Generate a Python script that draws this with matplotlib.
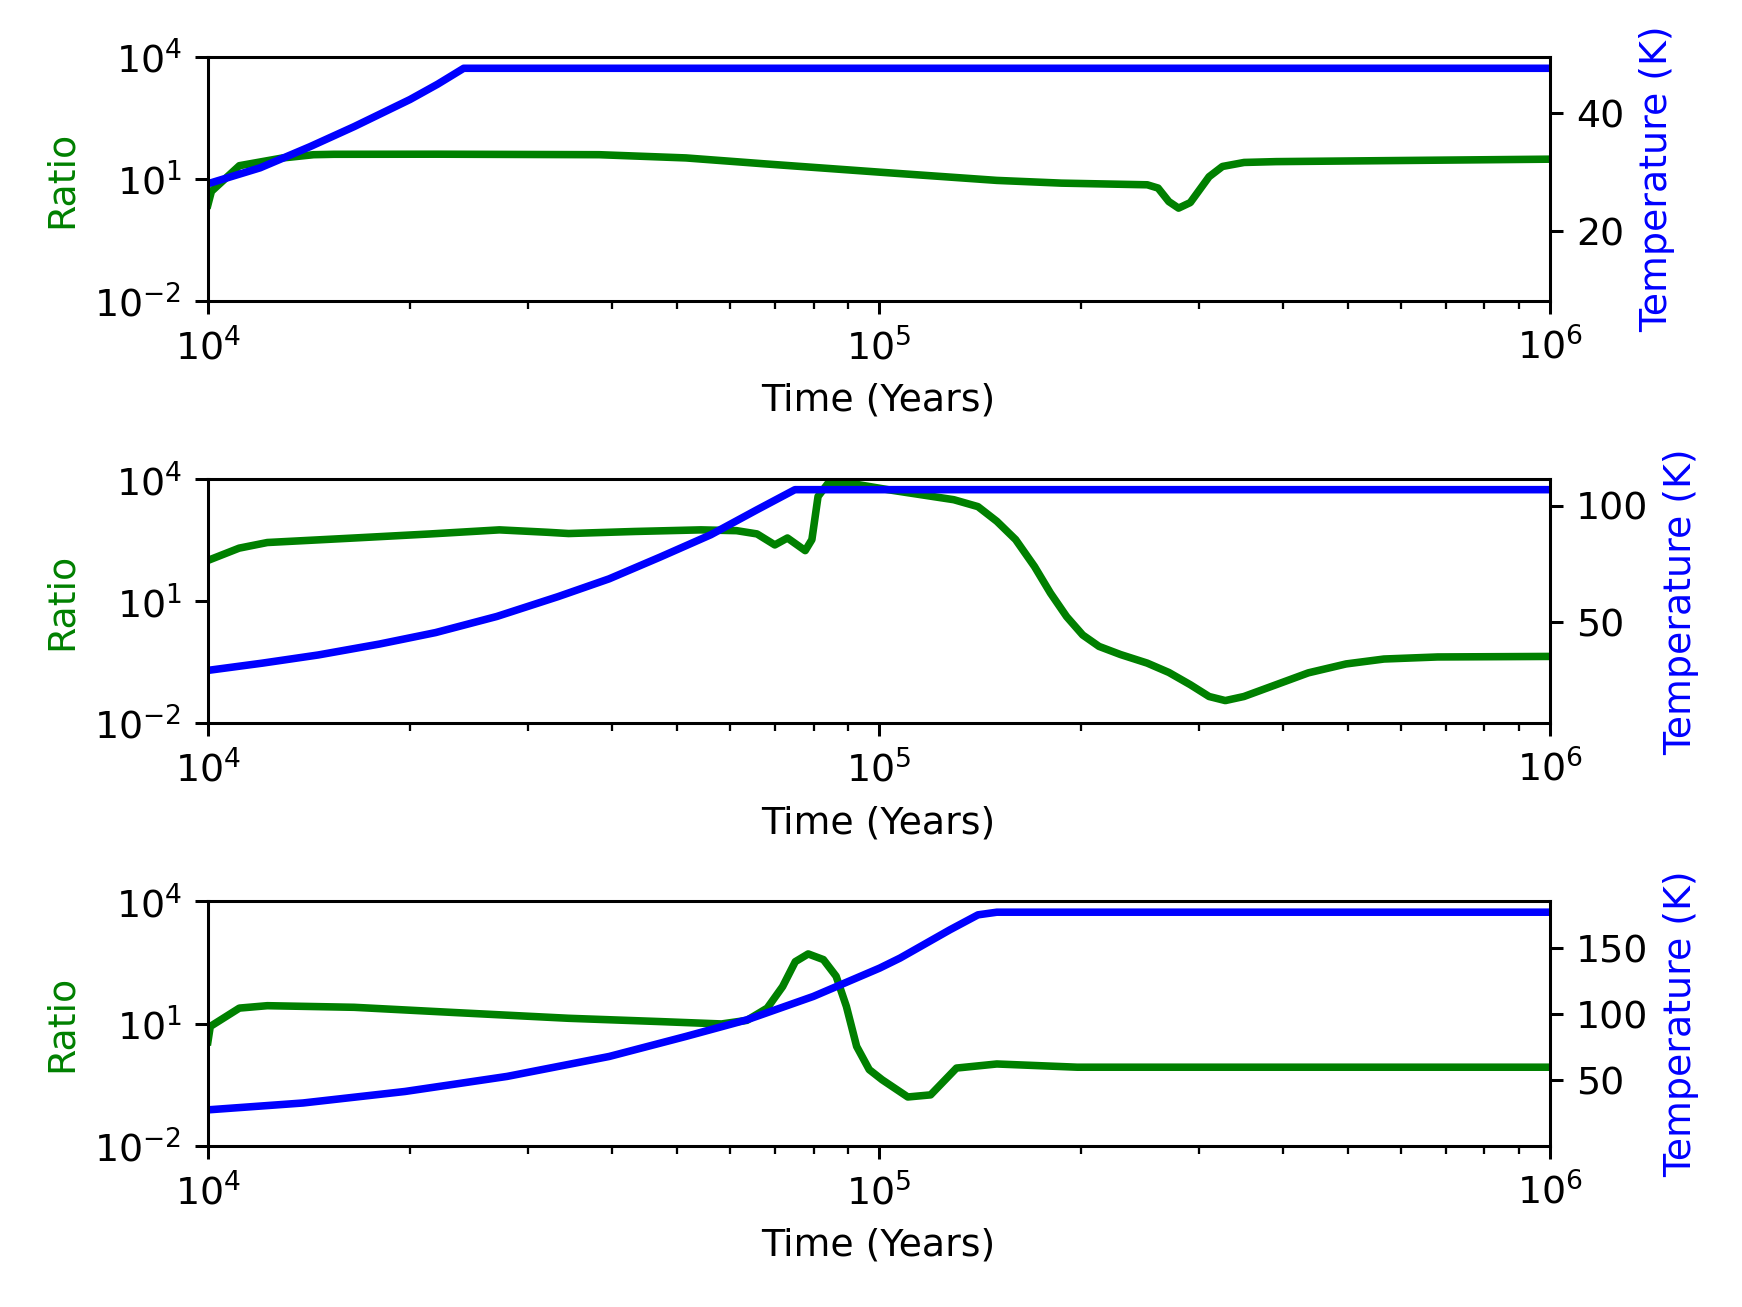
import numpy as np
import matplotlib
matplotlib.use("Agg")
import matplotlib.pyplot as plt
from matplotlib.ticker import NullLocator

# Panel 1
ratio_t1 = [1.0e4, 1.012e4, 1.114e4, 1.293e4, 1.437e4, 1.541e4, 2.2e4, 3.83e4, 5.16e4, 6.71e4,
            1.003e5, 1.50e5, 1.872e5, 2.514e5, 2.609e5, 2.707e5, 2.799e5, 2.914e5,
            3.108e5, 3.254e5, 3.505e5, 3.912e5, 1.0e6]
ratio_1 = [2.3, 4.9, 20.9, 32.4, 38.9, 39.8, 40.0, 38.9, 32.4, 23.4,
           14.5, 9.1, 7.8, 7.1, 5.9, 2.75, 1.9, 2.6,
           11.2, 20.0, 25.1, 26.3, 30.2]
temp_t1 = [1.0e4, 1.196e4, 1.42e4, 1.652e4, 2.001e4, 2.2e4, 2.406e4, 1.0e6]
temp_1 = [28.0, 30.7, 34.3, 37.7, 42.3, 44.9, 47.6, 47.6]

# Panel 2
ratio_t2 = [1.0e4, 1.113e4, 1.226e4, 1.652e4, 2.147e4, 2.72e4, 3.211e4, 3.449e4, 4.325e4,
            5.43e4, 6.14e4, 6.585e4, 7.0e4, 7.31e4, 7.77e4, 7.95e4, 8.12e4, 8.41e4,
            8.94e4, 1.038e5, 1.294e5, 1.406e5, 1.50e5, 1.60e5, 1.707e5, 1.803e5,
            1.906e5, 2.014e5, 2.13e5, 2.293e5, 2.513e5, 2.707e5, 2.914e5, 3.108e5,
            3.286e5, 3.503e5, 3.912e5, 4.37e5, 4.975e5, 5.665e5, 6.81e5, 1.0e6]
ratio_2 = [100, 200, 275, 355, 447, 562, 490, 457, 513,
           562, 537, 447, 240, 355, 174, 324, 3715, 7943,
           8128, 5370, 3090, 2089, 912, 324, 70.8, 15.8,
           4.17, 1.48, 0.776, 0.49, 0.302, 0.178, 0.089, 0.0457,
           0.0363, 0.0457, 0.089, 0.174, 0.288, 0.38, 0.427, 0.44]
temp_t2 = [1.0e4, 1.205e4, 1.46e4, 1.803e4, 2.185e4, 2.696e4, 3.327e4, 3.963e4,
           4.72e4, 5.62e4, 6.585e4, 7.5e4, 1.0e6]
temp_2 = [29.4, 32.5, 36.0, 40.7, 45.6, 52.5, 61.0, 68.6,
          77.9, 87.5, 98.2, 106.8, 106.8]

# Panel 3
ratio_t3 = [1.0e4, 1.008e4, 1.114e4, 1.226e4, 1.652e4, 2.343e4, 3.446e4, 4.723e4, 5.83e4,
            6.36e4, 6.82e4, 7.19e4, 7.51e4, 7.85e4, 8.27e4, 8.64e4, 8.95e4, 9.27e4,
            9.68e4, 1.012e5, 1.105e5, 1.195e5, 1.306e5, 1.50e5, 1.977e5, 1.0e6]
ratio_3 = [3.6, 8.5, 24, 27.5, 25.1, 18.6, 13.5, 11.2, 9.8,
           12, 24, 81, 331, 513, 372, 145, 26.3, 2.75,
           0.74, 0.417, 0.158, 0.178, 0.81, 1.02, 0.85, 0.85]
temp_t3 = [1.0e4, 1.386e4, 1.967e4, 2.793e4, 3.966e4, 5.156e4, 6.36e4, 7.99e4,
           1.003e5, 1.076e5, 1.277e5, 1.406e5, 1.50e5, 1.0e6]
temp_3 = [27.6, 32.8, 41.5, 52.9, 68.0, 83.1, 95.7, 113.4,
          134.8, 142.4, 163.8, 175.1, 177.1, 177.1]

ratio_ticks = [1e-2, 1e1, 1e4]

panels = [
    (ratio_t1, ratio_1, temp_t1, temp_1, (8.1, 49.6)),
    (ratio_t2, ratio_2, temp_t2, temp_2, (6.7, 111.4)),
    (ratio_t3, ratio_3, temp_t3, temp_3, (0.4, 185.3)),
]

fig, axes = plt.subplots(3, 1, figsize=(6.4, 4.8), dpi=272.34)
fig.subplots_adjust(left=0.1193, right=0.889, top=0.9566, bottom=0.1233, hspace=0.728)

for ax, (rt, r, tt, temp, tlim) in zip(axes, panels):
    ax.plot(rt, r, color="green", linewidth=2)
    ax.set_xscale("log")
    ax.set_yscale("log")
    ax.set_xlim(1e4, 1e6)
    ax.set_ylim(1e-2, 1e4)
    ax.set_yticks(ratio_ticks)
    ax.yaxis.set_minor_locator(NullLocator())
    ax.set_xlabel("Time (Years)")
    ax.set_ylabel("Ratio", color="green")

    ax2 = ax.twinx()
    ax2.plot(tt, temp, color="blue", linewidth=2)
    ax2.set_ylim(*tlim)
    ax2.set_ylabel("Temperature (K)", color="blue")

fig.savefig("out.png")
